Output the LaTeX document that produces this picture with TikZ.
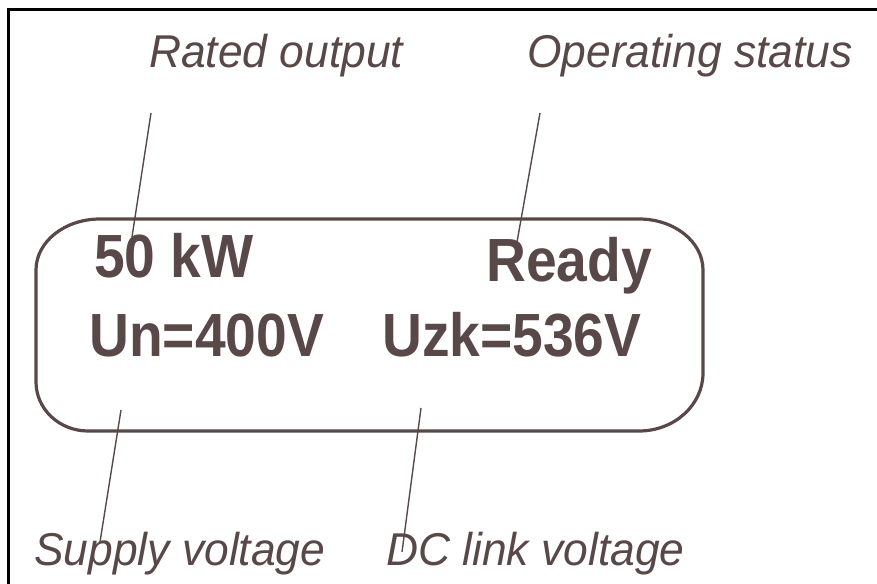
\documentclass[tikz,border=0pt]{standalone}
\usepackage{fontspec}
\setmainfont{Liberation Sans}
\newfontfamily\labfont[FakeStretch=0.965]{Liberation Sans}
\newfontfamily\valfont[FakeStretch=0.905]{Liberation Sans}
\definecolor{ink}{RGB}{89,72,72}
\begin{document}
\begin{tikzpicture}[x=1pt,y=1pt,
  lab/.style={anchor=base west,inner sep=0pt,text=ink,font=\labfont\itshape\fontsize{46}{46}\selectfont},
  val/.style={anchor=base west,inner sep=0pt,text=ink,font=\valfont\bfseries\fontsize{61}{61}\selectfont},
  leader/.style={draw=ink,line width=1.4pt},
  frame/.style={draw=black,line width=3pt},
  panel/.style={draw=ink,line width=3.2pt}]
\useasboundingbox (0,0) rectangle (877,583);
% frame (cropped: left and top sides)
\coordinate (fbl) at (8,-2);
\coordinate (ftl) at (8,573);
\coordinate (ftr) at (879,573);
\draw[frame] (fbl) -- (ftl) -- (ftr);
% display panel
\draw[panel] (100,364) -- (639,364)
  arc[start angle=90,end angle=0,x radius=64,y radius=51] -- (703,210)
  arc[start angle=0,end angle=-90,x radius=64,y radius=58] -- (88,152)
  arc[start angle=270,end angle=180,x radius=52,y radius=49] -- (36,313)
  arc[start angle=180,end angle=90,x radius=64,y radius=51] -- cycle;
% values
\node[val] (kw) at (94,305) {50 kW};
\node[val] (ready) at (486,301) {Ready};
\node[val] (un) at (89,226) {Un=400V};
\node[val] (uzk) at (382,226) {Uzk=536V};
% labels
\node[lab] (rated) at (149,515) {Rated output};
\node[lab] (opst) at (527,515) {Operating status};
\node[lab] (supply) at (34,18) {Supply voltage};
\node[lab] (dclink) at (386,18) {DC link voltage};
% leader lines
\coordinate (r1) at (151,470);
\coordinate (r2) at (132,346);
\coordinate (o1) at (540,470);
\coordinate (o2) at (517,341);
\coordinate (s1) at (121,173);
\coordinate (s2) at (100,41);
\coordinate (d1) at (421,175);
\coordinate (d2) at (402,31);
\draw[leader] (r1) -- (r2);
\draw[leader] (o1) -- (o2);
\draw[leader] (s1) -- (s2);
\draw[leader] (d1) -- (d2);
\end{tikzpicture}
\end{document}
